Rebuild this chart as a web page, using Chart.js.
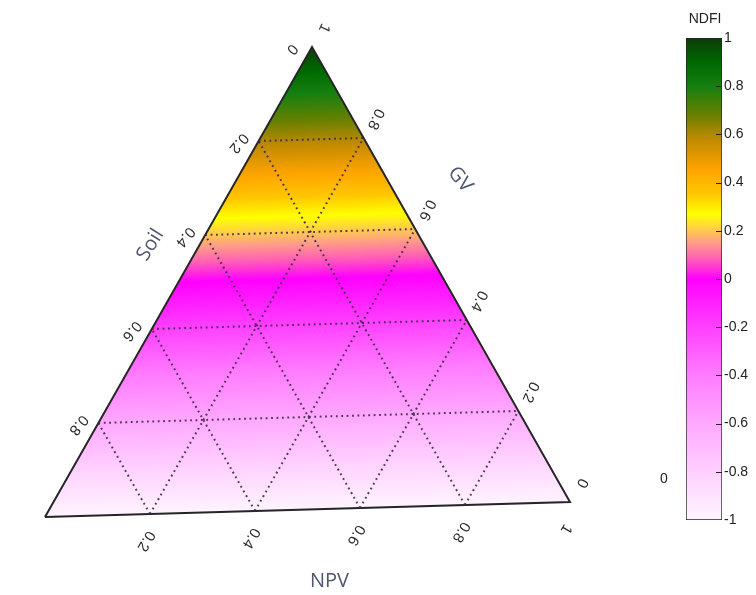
<!DOCTYPE html>
<html>
<head>
<meta charset="utf-8">
<script src="https://cdn.jsdelivr.net/npm/chart.js@4.4.0/dist/chart.umd.min.js"></script>
<style>
html, body { margin: 0; padding: 0; background: #fff; }
#wrap { position: relative; width: 756px; height: 595px; overflow: hidden; }
#tern { position: absolute; left: 0; top: 0; }
#bar { position: absolute; left: 640px; top: 0; }
</style>
</head>
<body>
<div id="wrap">
  <canvas id="tern" width="756" height="595"></canvas>
  <canvas id="bar" width="116" height="595"></canvas>
</div>
<script>
// ternary axes
var axisNames = ['Soil', 'GV', 'NPV'];
var gridValues = [0.2, 0.4, 0.6, 0.8];
var soilTicks = [0, 0.2, 0.4, 0.6, 0.8];
var gvTicks = [0, 0.2, 0.4, 0.6, 0.8, 1];
var npvTicks = [0.2, 0.4, 0.6, 0.8, 1];

// NDFI colour scale (NDFI = 2*GV - 1)
var ndfiStops  = [-1, -0.8, -0.6, -0.4, -0.2, 0, 0.08, 0.15, 0.2, 0.27, 0.35, 0.45, 0.58, 0.68, 0.8, 0.9, 1];
var ndfiColors = ['#fff4ff', '#ffd0ff', '#ffa8ff', '#ff7cff', '#ff40ff', '#ff00ff', '#ff5cb8', '#ff9c88',
                  '#ffc850', '#ffff00', '#ffc800', '#ffa500', '#c08a00', '#6a8000', '#158010', '#006800', '#0b3d0b'];
var ndfiTicks = [-1, -0.8, -0.6, -0.4, -0.2, 0, 0.2, 0.4, 0.6, 0.8, 1];

// corner of each component in plot units (picture is slightly skewed)
var cornerSoil = [0, 0];
var cornerNpv = [1, 0.0286];
var cornerGv = [0.5086, 0.8952];

function tern(gv, npv, soil) {
    return {
        x: soil * cornerSoil[0] + npv * cornerNpv[0] + gv * cornerGv[0],
        y: soil * cornerSoil[1] + npv * cornerNpv[1] + gv * cornerGv[1]
    };
}

function fmt(v) {
    return String(Math.round(v * 10) / 10);
}

function addStops(g) {
    ndfiStops.forEach(function(s, i) {
        g.addColorStop((s + 1) / 2, ndfiColors[i]);
    });
    return g;
}

// gradient runs across the iso-GV lines
function triangleFill(c) {
    var ch = c.chart;
    if (!ch.chartArea) return null;
    var xs = ch.scales.x, ys = ch.scales.y;
    var px = function(p) { return { x: xs.getPixelForValue(p.x), y: ys.getPixelForValue(p.y) }; };
    var a = px(tern(0, 0, 1)), b = px(tern(0, 1, 0)), t = px(tern(1, 0, 0));
    var dx = b.x - a.x, dy = b.y - a.y, len = Math.hypot(dx, dy);
    var nx = dy / len, ny = -dx / len;
    var h = (t.x - a.x) * nx + (t.y - a.y) * ny;
    return addStops(ch.ctx.createLinearGradient(a.x, a.y, a.x + nx * h, a.y + ny * h));
}

var triangle = [tern(0, 0, 1), tern(0, 1, 0), tern(1, 0, 0), tern(0, 0, 1)];

var gridSets = [];
gridValues.forEach(function(v) {
    var lines = [
        [tern(v, 0, 1 - v), tern(v, 1 - v, 0)],   // GV constant
        [tern(0, v, 1 - v), tern(1 - v, v, 0)],   // NPV constant
        [tern(0, 1 - v, v), tern(1 - v, 0, v)]    // Soil constant
    ];
    lines.forEach(function(l) {
        gridSets.push({
            data: l,
            showLine: true,
            borderColor: 'rgba(60,40,70,0.9)',
            borderWidth: 2,
            borderDash: [1.8, 3.6],
            pointRadius: 0,
            fill: false,
            order: 1
        });
    });
});

var labelFont = '15px "Liberation Sans", Arial, sans-serif';
var titleFont = '20px "Open Sans", sans-serif';

var ternLabels = {
    id: 'ternLabels',
    afterDatasetsDraw: function(chart) {
        var ctx = chart.ctx, xs = chart.scales.x, ys = chart.scales.y;
        var px = function(p) { return { x: xs.getPixelForValue(p.x), y: ys.getPixelForValue(p.y) }; };
        var sides = [
            { ticks: soilTicks, at: function(v) { return tern(1 - v, 0, v); }, dx: -20, dy: 2, rot: 130 },
            { ticks: gvTicks, at: function(v) { return tern(v, 1 - v, 0); }, dx: 12, dy: -19, rot: 115 },
            { ticks: npvTicks, at: function(v) { return tern(0, v, 1 - v); }, dx: -4, dy: 27, rot: 120 }
        ];
        ctx.save();
        ctx.font = labelFont;
        ctx.fillStyle = '#2a2a2a';
        ctx.textAlign = 'center';
        ctx.textBaseline = 'middle';
        sides.forEach(function(s) {
            s.ticks.forEach(function(v) {
                var p = px(s.at(v));
                ctx.save();
                ctx.translate(p.x + s.dx, p.y + s.dy);
                ctx.rotate(s.rot * Math.PI / 180);
                ctx.fillText(fmt(v), 0, 0);
                ctx.restore();
            });
        });
        // axis titles
        var titles = [
            { p: tern(0.5, 0, 0.5), dx: -28, dy: -37, rot: -58 },
            { p: tern(0.5, 0.5, 0), dx: 19, dy: -95, rot: 50 },
            { p: tern(0, 0.5, 0.5), dx: 22, dy: 72, rot: 0 }
        ];
        ctx.font = titleFont;
        ctx.fillStyle = '#4f5670';
        titles.forEach(function(t, i) {
            var p = px(t.p);
            ctx.save();
            ctx.translate(p.x + t.dx, p.y + t.dy);
            ctx.rotate(t.rot * Math.PI / 180);
            ctx.fillText(axisNames[i], 0, 0);
            ctx.restore();
        });
        ctx.restore();
    }
};

new Chart(document.getElementById('tern'), {
    type: 'scatter',
    data: {
        datasets: [{
            data: triangle,
            showLine: true,
            fill: 'shape',
            backgroundColor: triangleFill,
            borderColor: '#262626',
            borderWidth: 2,
            pointRadius: 0,
            order: 2
        }].concat(gridSets)
    },
    options: {
        responsive: false,
        animation: false,
        layout: { padding: 0 },
        plugins: { legend: { display: false }, tooltip: { enabled: false } },
        scales: {
            x: { type: 'linear', min: -0.0857, max: 1.3543, display: false },
            y: { type: 'linear', min: -0.1486, max: 0.9848, display: false }
        }
    },
    plugins: [ternLabels]
});

// colour bar
var barExtras = {
    id: 'barExtras',
    afterDatasetsDraw: function(chart) {
        var ctx = chart.ctx, a = chart.chartArea, ys = chart.scales.y;
        ctx.save();
        ctx.strokeStyle = '#222';
        ctx.lineWidth = 1;
        ndfiTicks.forEach(function(v) {
            if (v === -1 || v === 1) return;
            var y = Math.round(ys.getPixelForValue(v)) + 0.5;
            ctx.beginPath();
            ctx.moveTo(a.right - 6, y);
            ctx.lineTo(a.right, y);
            ctx.stroke();
        });
        ctx.font = '14px "Liberation Sans", Arial, sans-serif';
        ctx.fillStyle = '#222';
        ctx.textAlign = 'center';
        ctx.textBaseline = 'middle';
        ctx.fillText('NDFI', (a.left + a.right) / 2 + 1, a.top - 19);
        ctx.fillText('0', a.left - 22, ys.getPixelForValue(-0.83));
        ctx.restore();
    }
};

new Chart(document.getElementById('bar'), {
    type: 'bar',
    data: {
        labels: [''],
        datasets: [{
            data: [[-1, 1]],
            backgroundColor: function(c) {
                var ch = c.chart;
                if (!ch.chartArea) return null;
                var ys = ch.scales.y;
                return addStops(ch.ctx.createLinearGradient(0, ys.getPixelForValue(-1), 0, ys.getPixelForValue(1)));
            },
            borderColor: '#222',
            borderWidth: 1,
            borderSkipped: false,
            barPercentage: 1,
            categoryPercentage: 1
        }]
    },
    options: {
        responsive: false,
        animation: false,
        layout: { padding: { left: 46, top: 38, bottom: 75, right: 0 } },
        plugins: { legend: { display: false }, tooltip: { enabled: false } },
        scales: {
            x: { display: false },
            y: {
                position: 'right',
                min: -1,
                max: 1,
                afterFit: function(s) { s.width = 34; },
                grid: { display: false, drawTicks: false },
                border: { display: false },
                ticks: {
                    stepSize: 0.2,
                    padding: 2,
                    color: '#222',
                    font: { family: '"Liberation Sans", Arial, sans-serif', size: 14 },
                    callback: function(v) { return fmt(v); }
                }
            }
        }
    },
    plugins: [barExtras]
});
</script>
</body>
</html>
